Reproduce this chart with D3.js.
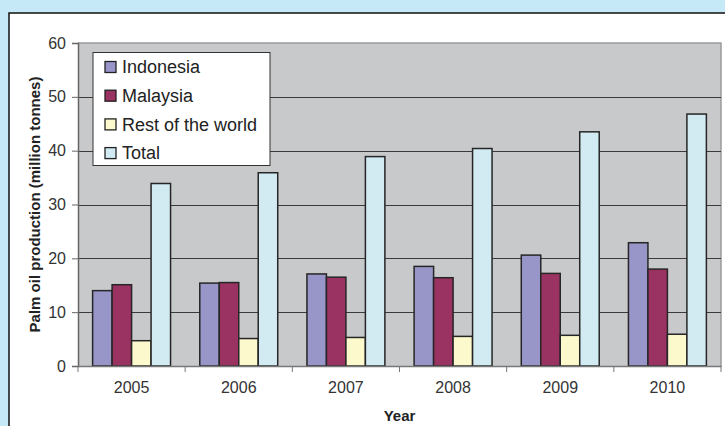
<!DOCTYPE html>
<html>
<head>
<meta charset="utf-8">
<script src="https://cdn.jsdelivr.net/npm/d3@7"></script>
<style>
  html, body { margin: 0; padding: 0; background: #c6e9f8; }
  svg { display: block; }
  text { font-family: "Liberation Sans", Arial, sans-serif; }
</style>
</head>
<body>
<svg id="chart" width="725" height="426"></svg>
<script>
// Palm oil production, million tonnes
const years = ["2005", "2006", "2007", "2008", "2009", "2010"];
const seriesNames = ["Indonesia", "Malaysia", "Rest of the world", "Total"];
const indonesia = [14.0, 15.4, 17.1, 18.5, 20.6, 22.9];
const malaysia = [15.1, 15.5, 16.5, 16.4, 17.2, 18.0];
const restOfWorld = [4.7, 5.1, 5.3, 5.5, 5.7, 5.9];
const total = [33.9, 35.9, 38.9, 40.4, 43.5, 46.8];
const yTicks = [0, 10, 20, 30, 40, 50, 60];
const seriesColors = ["#9896c9", "#9a3262", "#fcf9cc", "#d2ebf2"];

const seriesValues = [indonesia, malaysia, restOfWorld, total];
const rows = years.map((y, i) => ({
  year: y,
  values: seriesNames.map((s, k) => ({ series: s, value: seriesValues[k][i], color: seriesColors[k] }))
}));

const svg = d3.select("#chart");

// outer page and white chart panel
svg.append("rect").attr("x", 0).attr("y", 0).attr("width", 725).attr("height", 426).attr("fill", "#c6e9f8");
svg.append("rect").attr("x", 9).attr("y", 13).attr("width", 730).attr("height", 430)
  .attr("fill", "#ffffff").attr("stroke", "#111").attr("stroke-width", 1.5);

const plot = { left: 78, top: 43, right: 721, bottom: 366 };

const x0 = d3.scaleBand().domain(years).range([plot.left, plot.right]).padding(0);
const step = x0.bandwidth();
const barW = step / 5.5;
const x1 = d3.scaleBand().domain(seriesNames)
  .range([barW * 0.75, step - barW * 0.75]).padding(0);
const y = d3.scaleLinear().domain([0, 60]).range([plot.bottom, plot.top]);

// plot area
svg.append("rect")
  .attr("x", plot.left).attr("y", plot.top)
  .attr("width", plot.right - plot.left).attr("height", plot.bottom - plot.top)
  .attr("fill", "#c8c9cb");
// plot area frame (top and right)
svg.append("path")
  .attr("d", `M${plot.left},${plot.top}H${plot.right}V${plot.bottom}`)
  .attr("fill", "none").attr("stroke", "#9a9a9a").attr("stroke-width", 1.5);

// gridlines
svg.append("g").selectAll("line")
  .data(yTicks.filter(t => t > 0 && t < 60))
  .join("line")
  .attr("x1", plot.left).attr("x2", plot.right)
  .attr("y1", d => Math.round(y(d)) + 0.5).attr("y2", d => Math.round(y(d)) + 0.5)
  .attr("stroke", "#3a3a3a").attr("stroke-width", 1);

// bars
const groups = svg.append("g").selectAll("g")
  .data(rows).join("g")
  .attr("transform", d => `translate(${x0(d.year)},0)`);
groups.selectAll("rect")
  .data(d => d.values).join("rect")
  .attr("x", d => x1(d.series))
  .attr("y", d => y(d.value))
  .attr("width", x1.bandwidth())
  .attr("height", d => y(0) - y(d.value))
  .attr("fill", d => d.color)
  .attr("stroke", "#262626").attr("stroke-width", 1.5);

// y axis
const yAxis = svg.append("g")
  .attr("transform", `translate(${plot.left},0)`)
  .attr("font-size", 16)
  .call(d3.axisLeft(y).tickValues(yTicks).tickSize(6).tickPadding(6).tickFormat(d3.format("d")));
yAxis.attr("font-size", 16).attr("font-family", null);
yAxis.select(".domain").attr("stroke", "#666").attr("stroke-width", 1.5);
yAxis.selectAll(".tick line").attr("stroke", "#666");
yAxis.selectAll("text").style("font-size", "16px").attr("fill", "#333");

// x axis with ticks on category boundaries
const xAxis = svg.append("g")
  .attr("transform", `translate(0,${plot.bottom})`)
  .call(d3.axisBottom(x0).tickSize(0).tickPadding(16));
xAxis.attr("font-size", 16).attr("font-family", null);
xAxis.select(".domain").attr("stroke", "#777").attr("stroke-width", 1.5);
xAxis.selectAll("text").style("font-size", "16px").attr("fill", "#333");
xAxis.selectAll("line.bound")
  .data(years.map(d => x0(d)).concat([plot.right]))
  .join("line").attr("class", "bound")
  .attr("x1", d => d).attr("x2", d => d)
  .attr("y1", 0).attr("y2", 6)
  .attr("stroke", "#777").attr("stroke-width", 1);

// axis titles
svg.append("text")
  .attr("x", (plot.left + plot.right) / 2).attr("y", 421)
  .attr("text-anchor", "middle").attr("font-size", 15).attr("font-weight", "bold").attr("fill", "#222")
  .text("Year");
svg.append("text")
  .attr("transform", `translate(40,${(plot.top + plot.bottom) / 2}) rotate(-90)`)
  .attr("text-anchor", "middle").attr("font-size", 15).attr("font-weight", "bold").attr("fill", "#222")
  .text("Palm oil production (million tonnes)");

// legend
const legend = svg.append("g");
legend.append("rect")
  .attr("x", 93).attr("y", 52.5).attr("width", 177).attr("height", 113)
  .attr("fill", "#fff").attr("stroke", "#333").attr("stroke-width", 1);
const items = legend.selectAll("g.item")
  .data(seriesNames.map((s, k) => ({ s, c: seriesColors[k] })))
  .join("g").attr("class", "item")
  .attr("transform", (d, i) => `translate(105,${67 + i * 28.7})`);
items.append("rect")
  .attr("x", 0).attr("y", -5.5).attr("width", 11).attr("height", 11)
  .attr("fill", d => d.c).attr("stroke", "#222").attr("stroke-width", 1.3);
items.append("text")
  .attr("x", 17).attr("y", 0).attr("dy", "0.35em")
  .attr("font-size", 18).attr("fill", "#222")
  .text(d => d.s);
</script>
</body>
</html>
